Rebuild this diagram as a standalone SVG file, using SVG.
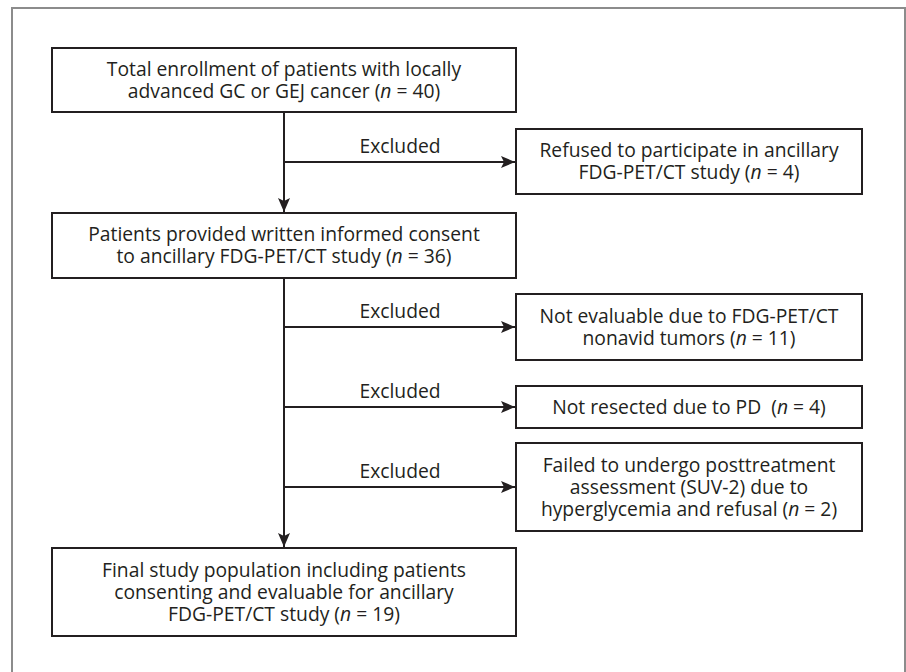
<svg xmlns="http://www.w3.org/2000/svg" width="906" height="672" viewBox="0 0 906 672">
<style>
.frame{fill:none;stroke:#8c8c8c;stroke-width:2}
.box{fill:#fff;stroke:#231f20;stroke-width:2}
.t{font-family:"Open Sans","Noto Sans","DejaVu Sans",sans-serif;font-size:19.3px;fill:#231f20;text-anchor:middle}
.c{fill:none;stroke:#231f20;stroke-width:2}
</style>
<defs>
<marker id="ah" markerWidth="14" markerHeight="12" refX="14" refY="6" orient="auto" markerUnits="userSpaceOnUse">
<path d="M0,0 L14,6 L0,12 L3,6 z" fill="#231f20"/>
</marker>
</defs>
<rect width="906" height="672" fill="#fff"/>
<path class="frame" d="M12,690 V8 H905 V690"/>
<g id="connectors">
<line class="c" x1="284" y1="112" x2="284" y2="212" marker-end="url(#ah)"/>
<line class="c" x1="284" y1="162" x2="515" y2="162" marker-end="url(#ah)"/>
<line class="c" x1="284" y1="278" x2="284" y2="547" marker-end="url(#ah)"/>
<line class="c" x1="284" y1="327" x2="515" y2="327" marker-end="url(#ah)"/>
<line class="c" x1="284" y1="407" x2="515" y2="407" marker-end="url(#ah)"/>
<line class="c" x1="284" y1="487" x2="515" y2="487" marker-end="url(#ah)"/>
<text class="t" x="400" y="153">Excluded</text>
<text class="t" x="400" y="318">Excluded</text>
<text class="t" x="400" y="398">Excluded</text>
<text class="t" x="400" y="478">Excluded</text>
</g>
<g id="enrollment">
<rect class="box" x="52" y="48" width="464" height="64"/>
<text class="t" x="284" y="76">Total enrollment of patients with locally</text>
<text class="t" x="284" y="98">advanced GC or GEJ cancer (<tspan font-style="italic">n</tspan> = 40)</text>
</g>
<g id="refused">
<rect class="box" x="516" y="129" width="346" height="65"/>
<text class="t" x="689" y="157">Refused to participate in ancillary</text>
<text class="t" x="689" y="179">FDG-PET/CT study (<tspan font-style="italic">n</tspan> = 4)</text>
</g>
<g id="consent">
<rect class="box" x="52" y="213" width="464" height="65"/>
<text class="t" x="284" y="241">Patients provided written informed consent</text>
<text class="t" x="284" y="263">to ancillary FDG-PET/CT study (<tspan font-style="italic">n</tspan> = 36)</text>
</g>
<g id="nonavid">
<rect class="box" x="516" y="294" width="346" height="66"/>
<text class="t" x="689" y="323">Not evaluable due to FDG-PET/CT</text>
<text class="t" x="689" y="345">nonavid tumors (<tspan font-style="italic">n</tspan> = 11)</text>
</g>
<g id="notresected">
<rect class="box" x="516" y="386" width="346" height="42"/>
<text class="t" x="689" y="414" xml:space="preserve">Not resected due to PD  (<tspan font-style="italic">n</tspan> = 4)</text>
</g>
<g id="failed">
<rect class="box" x="516" y="443" width="346" height="88"/>
<text class="t" x="689" y="472">Failed to undergo posttreatment</text>
<text class="t" x="689" y="494">assessment (SUV-2) due to</text>
<text class="t" x="689" y="516">hyperglycemia and refusal (<tspan font-style="italic">n</tspan> = 2)</text>
</g>
<g id="final">
<rect class="box" x="52" y="548" width="464" height="88"/>
<text class="t" x="284" y="577">Final study population including patients</text>
<text class="t" x="284" y="599">consenting and evaluable for ancillary</text>
<text class="t" x="284" y="621">FDG-PET/CT study (<tspan font-style="italic">n</tspan> = 19)</text>
</g>
</svg>
